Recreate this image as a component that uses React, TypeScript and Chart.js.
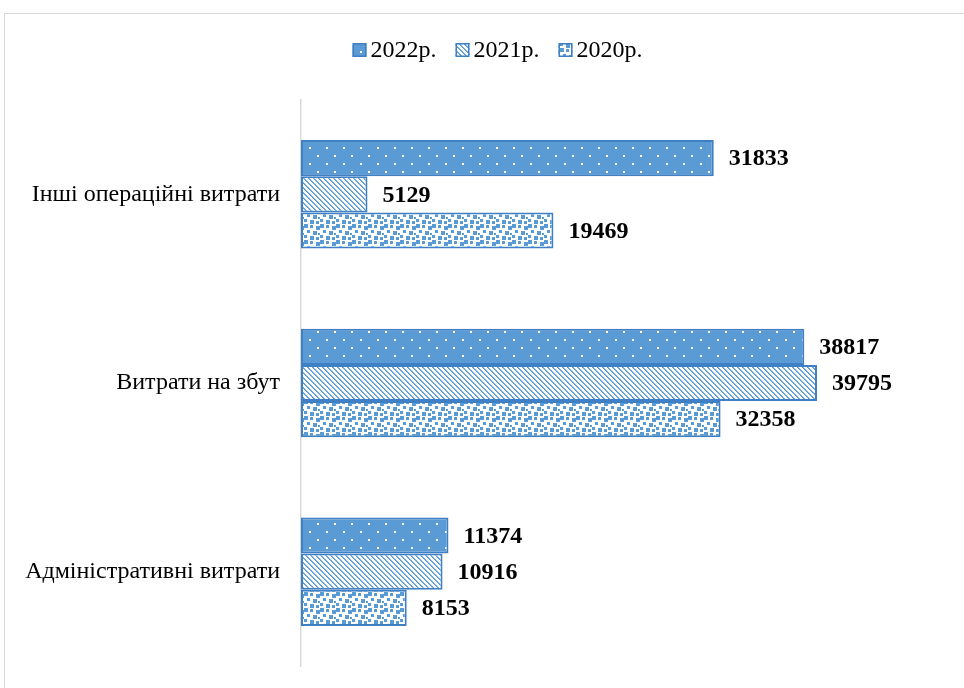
import React, { useEffect, useRef } from "react";
import { Chart, registerables } from "chart.js";

Chart.register(...registerables);

const categories = ["Інші операційні витрати", "Витрати на збут", "Адміністративні витрати"];
const seriesNames = ["2022р.", "2021р.", "2020р."];
const values2022 = [31833, 38817, 11374];
const values2021 = [5129, 39795, 10916];
const values2020 = [19469, 32358, 8153];
const axisMax = 45000;

const BLUE = "#5B9BD5";
const BORDER = "#3F7FC4";
const FONT = "'Liberation Serif', 'Times New Roman', serif";

function makeTile(w: number, h: number, draw: (g: CanvasRenderingContext2D) => void) {
  const c = document.createElement("canvas");
  c.width = w;
  c.height = h;
  const g = c.getContext("2d") as CanvasRenderingContext2D;
  draw(g);
  return c;
}

function makePatterns(ctx: CanvasRenderingContext2D) {
  const dots = makeTile(17, 16, (g) => {
    g.fillStyle = BLUE;
    g.fillRect(0, 0, 17, 16);
    g.fillStyle = "#ffffff";
    g.fillRect(3, 3, 2, 2);
    g.fillRect(11, 11, 2, 2);
  });
  const diag = makeTile(5, 5, (g) => {
    g.fillStyle = "#ffffff";
    g.fillRect(0, 0, 5, 5);
    for (let y = 0; y < 5; y++) {
      for (let x = 0; x < 5; x++) {
        const d = (x - y + 10) % 5;
        if (d === 0 || d === 1) {
          g.fillStyle = d === 0 ? BLUE : "#7fb0df";
          g.fillRect(x, y, 1, 1);
        }
      }
    }
  });
  const confetti = makeTile(16, 16, (g) => {
    g.fillStyle = "#ffffff";
    g.fillRect(0, 0, 16, 16);
    g.fillStyle = BLUE;
    const sq: [number, number, number][] = [
      [0, 0, 4], [6, 1, 3], [12, 2, 4], [3, 6, 3], [9, 7, 4],
      [0, 11, 3], [14, 9, 2], [6, 12, 4], [12, 13, 3],
    ];
    sq.forEach(([x, y, s]) => g.fillRect(x, y, s, s));
  });
  return [
    ctx.createPattern(dots, "repeat"),
    ctx.createPattern(diag, "repeat"),
    ctx.createPattern(confetti, "repeat"),
  ];
}

const valueLabels = {
  id: "valueLabels",
  afterDatasetsDraw(chart: any) {
    const ctx = chart.ctx;
    ctx.save();
    ctx.font = `bold 24px ${FONT}`;
    ctx.fillStyle = "#000";
    ctx.textAlign = "left";
    ctx.textBaseline = "middle";
    chart.data.datasets.forEach((ds: any, i: number) => {
      const meta = chart.getDatasetMeta(i);
      meta.data.forEach((el: any, j: number) => {
        ctx.fillText(String(ds.data[j]), el.x + 15, el.y + 1);
      });
    });
    ctx.restore();
  },
};

const customLegend = {
  id: "customLegend",
  afterDraw(chart: any) {
    const ctx = chart.ctx;
    ctx.save();
    ctx.font = `24px ${FONT}`;
    const box = 14;
    const gapBox = 4;
    const gapItem = 19;
    const widths = chart.data.datasets.map((d: any) => ctx.measureText(d.label).width);
    const total = widths.reduce((a: number, w: number) => a + box + gapBox + w, 0) + gapItem * (widths.length - 1);
    let x = 497.5 - total / 2;
    const cy = 50;
    chart.data.datasets.forEach((d: any, i: number) => {
      ctx.fillStyle = d.backgroundColor;
      ctx.fillRect(x, cy - box / 2, box, box);
      ctx.strokeStyle = BORDER;
      ctx.lineWidth = 1.5;
      ctx.strokeRect(x + 0.75, cy - box / 2 + 0.75, box - 1.5, box - 1.5);
      ctx.fillStyle = "#000";
      ctx.textAlign = "left";
      ctx.textBaseline = "middle";
      ctx.fillText(d.label, x + box + gapBox, cy + 1);
      x += box + gapBox + widths[i] + gapItem;
    });
    ctx.restore();
  },
};

export default function App() {
  const ref = useRef<HTMLCanvasElement | null>(null);

  useEffect(() => {
    const canvas = ref.current;
    if (!canvas) return;
    const ctx = canvas.getContext("2d") as CanvasRenderingContext2D;
    const [p0, p1, p2] = makePatterns(ctx);
    const seriesValues = [values2022, values2021, values2020];
    const fills = [p0, p1, p2];
    const chart = new Chart(canvas, {
      type: "bar",
      data: {
        labels: categories,
        datasets: seriesNames.map((name, i) => ({
          label: name,
          data: seriesValues[i],
          backgroundColor: fills[i] as any,
          borderColor: BORDER,
          borderWidth: 2,
          borderSkipped: false,
          categoryPercentage: 0.575,
          barPercentage: 1,
        })),
      },
      options: {
        indexAxis: "y",
        responsive: false,
        animation: false,
        devicePixelRatio: 1,
        layout: { padding: { left: 0, right: 79.5, top: 100, bottom: 22 } },
        plugins: {
          legend: { display: false },
          tooltip: { enabled: false },
        },
        scales: {
          x: { display: false, min: 0, max: axisMax },
          y: {
            grid: { display: true, color: "rgba(0,0,0,0)", drawTicks: false },
            border: { display: true, color: "#d9d9d9", width: 1.5 },
            ticks: { font: { family: FONT, size: 24 }, color: "#000", padding: 21 },
            afterFit: (s: any) => {
              s.width = 301;
              s.paddingTop = 0;
              s.paddingBottom = 0;
            },
          },
        },
      } as any,
      plugins: [valueLabels, customLegend],
    });
    return () => chart.destroy();
  }, []);

  return (
    <div style={{ position: "fixed", left: 0, top: 0, width: 964, height: 688, overflow: "hidden", background: "#fff" }}>
      <div
        style={{
          position: "absolute",
          left: 4,
          top: 13,
          width: 1100,
          height: 800,
          border: "1px solid #d9d9d9",
          boxSizing: "border-box",
        }}
      />
      <canvas ref={ref} width={964} height={688} style={{ position: "absolute", left: 0, top: 0, width: 964, height: 688 }} />
    </div>
  );
}
